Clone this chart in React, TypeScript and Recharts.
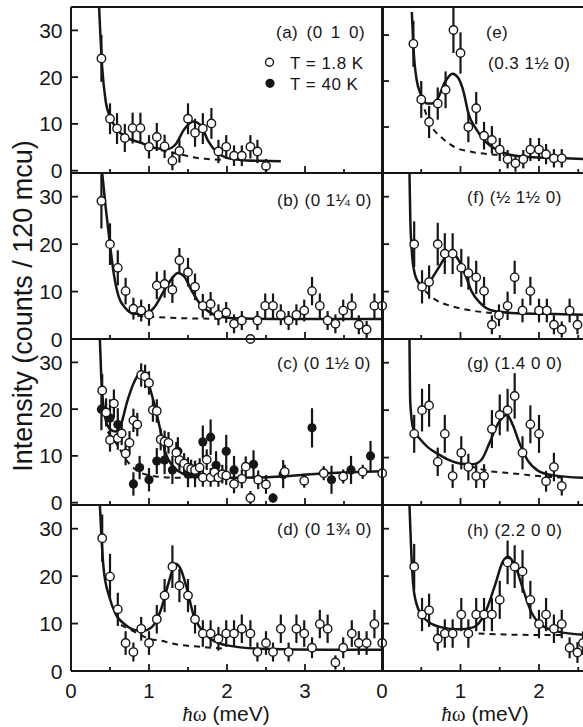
import React from 'react';
import { ComposedChart, Scatter, Line, XAxis, YAxis, ErrorBar } from 'recharts';

type P = [number, number, number];
type L = [number, number];

// ---------- data (x = energy meV, y = intensity, e = error) ----------
const aCold: P[] = [[0.39,24.0,5.0],[0.50,11.1,3.3],[0.59,9.0,3.3],[0.69,7.0,3.0],[0.79,9.1,3.3],[0.89,9.1,3.3],[1.00,5.1,2.5],[1.10,7.2,3.0],[1.20,5.2,2.5],[1.30,2.1,2.0],[1.39,4.2,2.5],[1.50,11.1,3.3],[1.59,8.1,3.0],[1.69,9.0,3.3],[1.80,10.1,3.3],[1.89,4.1,2.5],[1.99,5.1,2.5],[2.09,3.2,2.2],[2.19,3.2,2.2],[2.30,5.1,2.5],[2.39,4.1,2.5],[2.50,1.0,1.5]];
const aFit: L[] = [[0.36,35],[0.40,22],[0.445,14.8],[0.50,11.6],[0.59,8.8],[0.72,7.0],[0.89,6.0],[1.06,4.9],[1.23,4.6],[1.34,5.6],[1.45,8.8],[1.57,10.5],[1.66,9.8],[1.76,6.3],[1.87,3.9],[1.99,2.8],[2.17,2.3],[2.43,2.1],[2.69,2.0]];
const aBg: L[] = [[1.15,4.4],[1.27,3.95],[1.45,3.3],[1.57,2.85],[1.75,2.5],[1.95,2.3]];

const bCold: P[] = [[0.39,29.1,5.8],[0.50,20.0,4.4],[0.60,15.0,3.7],[0.70,10.1,2.8],[0.80,6.4,2.3],[0.90,6.0,2.3],[1.00,5.1,2.3],[1.10,11.3,2.9],[1.20,11.6,2.9],[1.30,10.4,2.8],[1.39,16.6,2.6],[1.50,14.1,3.0],[1.59,11.0,2.8],[1.69,7.0,2.5],[1.79,7.4,2.5],[1.89,5.1,2.2],[1.99,5.6,2.2],[2.09,3.2,2.0],[2.19,3.9,2.0],[2.30,0.0,0],[2.39,3.9,2.0],[2.49,7.0,2.6],[2.59,7.0,2.6],[2.69,5.1,2.2],[2.79,3.9,2.0],[2.89,5.1,2.2],[2.99,6.0,2.3],[3.09,10.1,3.0],[3.19,7.0,2.6],[3.29,3.9,2.0],[3.39,3.2,2.0],[3.49,6.0,2.3],[3.60,7.0,2.6],[3.69,3.0,2.0],[3.79,2.0,1.8],[3.89,7.0,2.6],[3.99,7.0,2.6]];
const bFit: L[] = [[0.40,35],[0.445,27.7],[0.50,19.9],[0.55,13.6],[0.61,9.0],[0.70,6.5],[0.81,5.3],[0.93,5.3],[1.06,6.5],[1.19,10.1],[1.30,12.9],[1.37,13.9],[1.45,13.2],[1.55,10.1],[1.66,7.3],[1.79,5.5],[1.96,4.6],[2.21,4.3],[2.85,4.2],[4.0,4.2]];
const bBg: L[] = [[0.85,4.9],[1.1,4.6],[1.4,4.4],[1.7,4.3],[1.96,4.25]];

const cCold: P[] = [[0.40,24.0,3.5],[0.45,19.3,3.0],[0.50,13.4,2.5],[0.55,21.2,3.0],[0.60,13.8,2.5],[0.65,14.8,2.5],[0.70,10.5,2.5],[0.75,12.8,2.5],[0.80,17.6,2.5],[0.85,16.7,2.5],[0.90,27.3,2.5],[0.95,27.0,2.5],[1.00,25.6,2.5],[1.05,19.8,2.5],[1.10,19.6,2.5],[1.15,13.5,2.3],[1.20,13.1,2.3],[1.25,12.8,2.3],[1.35,10.7,2.3],[1.39,9.1,2.2],[1.45,8.4,2.2],[1.50,7.5,2.2],[1.54,7.2,2.0],[1.59,7.0,2.0],[1.65,7.5,2.0],[1.69,5.4,2.0],[1.74,9.2,2.2],[1.79,5.4,2.0],[1.84,6.5,2.0],[1.89,5.4,2.0],[1.94,6.1,2.0],[1.99,5.8,2.0],[2.09,4.0,2.0],[2.19,5.1,2.0],[2.24,7.7,2.2],[2.30,1.0,1.5],[2.40,4.9,2.0],[2.50,3.9,2.0],[2.74,6.6,1.5],[2.99,4.7,1.5],[3.24,6.3,1.5],[3.49,5.6,1.5],[3.74,6.6,1.5],[3.99,6.3,1.5]];
const cWarm: P[] = [[0.39,20.0,4.5],[0.50,18.1,4.0],[0.60,16.7,3.5],[0.80,4.0,2.5],[0.88,7.5,2.5],[1.00,4.9,2.5],[1.10,8.9,2.8],[1.20,9.1,3.0],[1.30,7.0,3.0],[1.37,11.0,3.0],[1.50,6.1,2.8],[1.59,6.1,2.8],[1.69,13.0,3.5],[1.79,14.0,3.8],[1.86,8.0,3.0],[1.99,11.0,3.5],[2.09,7.0,3.0],[2.34,8.2,3.0],[2.59,1.0,1.0],[2.72,6.1,3.0],[3.09,16.0,4.2],[3.34,4.9,3.0],[3.59,7.0,3.0],[3.84,10.0,3.2]];
const cFit: L[] = [[0.37,35],[0.39,26],[0.42,20],[0.46,16.8],[0.51,15.6],[0.57,15.2],[0.64,16.7],[0.72,21.6],[0.81,25.8],[0.89,27.8],[0.93,27.8],[0.98,26.1],[1.06,21.6],[1.15,15.2],[1.21,10.7],[1.30,7.9],[1.40,6.5],[1.57,5.6],[1.83,5.3],[2.42,5.4],[3.28,6.3],[4.0,6.7]];
const cBg: L[] = [[0.47,15.2],[0.59,12.4],[0.72,8.9],[0.85,6.8],[1.02,5.8],[1.23,5.4],[1.45,5.3]];

const dCold: P[] = [[0.40,28.0,5.0],[0.50,19.9,4.8],[0.60,13.0,3.5],[0.70,5.9,2.5],[0.80,4.0,2.0],[0.90,8.9,2.5],[1.00,5.9,2.5],[1.10,10.9,3.0],[1.20,15.9,3.5],[1.30,22.0,4.5],[1.39,18.0,3.5],[1.50,15.9,3.5],[1.59,10.9,3.0],[1.69,7.9,2.8],[1.79,7.9,2.8],[1.89,6.8,2.5],[1.99,7.9,2.8],[2.09,7.9,2.8],[2.19,8.9,3.0],[2.30,7.9,2.8],[2.39,4.0,2.0],[2.50,5.9,2.5],[2.59,4.0,2.0],[2.69,8.9,3.0],[2.79,4.0,2.0],[2.89,8.9,3.0],[2.99,7.9,2.8],[3.09,4.9,2.2],[3.19,9.9,3.0],[3.29,8.9,3.0],[3.39,1.8,1.5],[3.49,4.9,2.2],[3.60,7.9,2.8],[3.69,5.9,2.5],[3.79,5.9,2.5],[3.89,9.9,3.0],[3.99,5.9,2.5]];
const dFit: L[] = [[0.37,35],[0.39,28.4],[0.42,21.3],[0.49,15.7],[0.57,12.1],[0.70,9.7],[0.83,8.6],[0.93,8.5],[1.04,9.3],[1.15,12.8],[1.25,18.5],[1.34,22.6],[1.40,21.7],[1.49,17.1],[1.57,11.8],[1.66,9.0],[1.79,6.8],[2.0,5.4],[2.43,4.7],[3.28,4.5],[4.0,4.5]];
const dBg: L[] = [[0.64,9.7],[0.81,8.3],[1.0,6.8],[1.15,6.4],[1.36,5.6],[1.66,5.1],[2.0,4.7]];

const eCold: P[] = [[0.40,28.1,5.0],[0.50,16.0,4.0],[0.60,11.1,3.5],[0.71,15.1,3.5],[0.81,18.1,4.0],[0.91,31.1,5.0],[1.00,26.1,4.5],[1.10,10.0,3.3],[1.20,14.1,3.5],[1.30,8.1,3.0],[1.40,7.2,3.0],[1.50,5.1,2.5],[1.60,3.0,2.0],[1.70,2.1,1.8],[1.80,3.0,2.0],[1.89,5.1,2.5],[2.00,5.1,2.5],[2.09,4.1,2.2],[2.19,3.2,2.0],[2.29,3.2,2.0]];
const eFit: L[] = [[0.38,35],[0.40,27.4],[0.44,20.4],[0.50,16.9],[0.57,15.1],[0.63,15.1],[0.71,16.2],[0.80,19.7],[0.90,21.6],[0.97,20.7],[1.04,17.6],[1.10,13.0],[1.19,9.8],[1.31,7.0],[1.48,4.9],[1.65,3.9],[1.86,3.5],[2.33,3.2],[2.60,3.0]];
const eBg: L[] = [[0.50,16.2],[0.55,13.4],[0.63,10.2],[0.76,7.7],[0.93,5.6],[1.14,4.6],[1.35,4.1],[1.56,3.9]];

const fCold: P[] = [[0.41,20.0,4.8],[0.51,11.0,3.5],[0.60,12.0,3.5],[0.71,20.0,4.5],[0.80,18.0,4.3],[0.90,18.0,4.3],[1.01,15.0,4.0],[1.10,13.9,3.5],[1.20,13.0,3.5],[1.30,10.1,3.0],[1.40,3.0,2.0],[1.49,5.0,2.3],[1.60,7.0,3.0],[1.69,13.0,3.5],[1.79,6.0,2.5],[1.89,10.1,3.0],[2.00,6.0,2.5],[2.10,6.0,2.5],[2.19,3.0,2.0],[2.29,2.0,1.7],[2.39,6.0,2.5],[2.49,3.0,2.0]];
const fFit: L[] = [[0.35,35],[0.36,25.6],[0.38,18.5],[0.41,14.3],[0.47,11.8],[0.53,11.1],[0.61,12.2],[0.72,15.0],[0.82,17.5],[0.90,18.0],[0.97,16.8],[1.06,13.6],[1.14,10.1],[1.25,7.6],[1.40,6.0],[1.65,5.5],[2.07,5.3],[2.60,5.1]];
const fBg: L[] = [[0.55,10.1],[0.68,8.3],[0.89,6.9],[1.14,6.0],[1.40,5.5]];

const gCold: P[] = [[0.41,15.0,4.0],[0.51,20.0,4.5],[0.60,21.0,4.5],[0.71,9.1,3.0],[0.80,15.0,4.0],[0.90,6.1,2.5],[1.01,11.0,3.5],[1.10,8.0,2.8],[1.20,6.1,2.5],[1.30,6.1,2.5],[1.40,16.0,4.0],[1.50,19.0,4.3],[1.60,20.0,4.5],[1.69,23.0,4.8],[1.79,11.0,3.5],[1.89,17.0,4.0],[2.00,15.0,4.0],[2.09,5.0,2.2],[2.19,8.0,3.0],[2.29,4.0,2.0]];
const gFit: L[] = [[0.35,35],[0.36,21.6],[0.40,16.0],[0.49,13.8],[0.59,12.1],[0.72,10.7],[0.85,9.5],[1.01,8.7],[1.16,8.6],[1.27,9.6],[1.37,13.1],[1.48,17.2],[1.59,19.0],[1.67,16.7],[1.75,13.1],[1.86,9.3],[1.99,7.2],[2.16,6.3],[2.60,5.7]];
const gBg: L[] = [[1.12,8.2],[1.35,7.2],[1.65,6.7],[1.99,6.1],[2.28,5.8]];

const hCold: P[] = [[0.41,22.0,4.8],[0.51,11.9,3.5],[0.60,12.8,3.5],[0.71,6.8,2.5],[0.80,7.9,3.0],[0.90,7.9,3.0],[1.01,11.9,3.5],[1.10,7.9,3.0],[1.20,11.9,3.5],[1.30,11.9,3.5],[1.40,11.9,3.5],[1.50,15.0,4.0],[1.60,22.9,4.6],[1.69,22.0,4.5],[1.79,21.0,4.5],[1.89,15.0,4.0],[2.00,9.9,3.0],[2.09,11.9,3.5],[2.19,8.9,3.0],[2.29,9.9,3.0],[2.39,4.9,2.2],[2.49,3.9,2.2],[2.56,5.9,2.5]];
const hFit: L[] = [[0.35,35],[0.38,22.7],[0.41,16.4],[0.49,12.1],[0.59,10.4],[0.76,9.2],[0.97,8.8],[1.16,9.2],[1.31,12.1],[1.44,18.1],[1.54,23.1],[1.61,24.1],[1.69,22.4],[1.80,17.1],[1.90,12.5],[2.03,9.7],[2.24,8.3],[2.60,7.6]];
const hBg: L[] = [[1.23,7.9],[1.56,7.7],[1.99,7.6],[2.28,7.6]];

const xTicks = [0, 0.5, 1, 1.5, 2, 2.5, 3, 3.5, 4];
const yTicks = [0, 10, 20, 30];
const xLabelsLeft = [0, 1, 2, 3];
const xLabelsRight = [0, 1, 2];

// ---------- layout ----------
const COL_X = [71, 382];
const PLOT_W = [312, 314];
const ROW_TOP = [7, 173, 339, 505];
const PLOT_H = 166;
const INK = '#161616';
const SANS = '"Liberation Sans", Arial, Helvetica, sans-serif';

const pts = (a: P[]) => a.map(([x, y, e]) => ({ x, y, e }));
const ln = (a: L[]) => a.map(([x, y]) => ({ x, y }));

const panels = [
  { col: 0, row: 0, cold: aCold, warm: null, fit: aFit, bg: aBg },
  { col: 0, row: 1, cold: bCold, warm: null, fit: bFit, bg: bBg },
  { col: 0, row: 2, cold: cCold, warm: cWarm, fit: cFit, bg: cBg },
  { col: 0, row: 3, cold: dCold, warm: null, fit: dFit, bg: dBg },
  { col: 1, row: 0, cold: eCold, warm: null, fit: eFit, bg: eBg },
  { col: 1, row: 1, cold: fCold, warm: null, fit: fFit, bg: fBg },
  { col: 1, row: 2, cold: gCold, warm: null, fit: gFit, bg: gBg },
  { col: 1, row: 3, cold: hCold, warm: null, fit: hFit, bg: hBg },
];

const panelLabels = [
  { t: '(a) (0 1 0)', x: 276, y: 37.5, ws: 3 },
  { t: '(b) (0 1¼ 0)', x: 277, y: 205.5, ws: 0 },
  { t: '(c) (0 1½ 0)', x: 277, y: 368.5, ws: 0 },
  { t: '(d) (0 1¾ 0)', x: 277, y: 535, ws: 0 },
  { t: '(e)', x: 486, y: 37.5, ws: 0 },
  { t: '(0.3 1½ 0)', x: 488, y: 69, ws: 0 },
  { t: '(f) (½ 1½ 0)', x: 467, y: 203, ws: 0 },
  { t: '(g) (1.4 0 0)', x: 467, y: 368.5, ws: 0 },
  { t: '(h) (2.2 0 0)', x: 467, y: 535.5, ws: 0 },
];

const OpenDot = (p: any) => (
  <circle cx={p.cx} cy={p.cy} r={4.2} fill="#fff" stroke={INK} strokeWidth={1.4} />
);
const FillDot = (p: any) => <circle cx={p.cx} cy={p.cy} r={4.6} fill={INK} />;

const makeXTick = (dir: number, labels: number[] | null) => (p: any) => {
  const v = p.payload.value;
  const major = Math.abs(v - Math.round(v)) < 1e-6;
  const len = major ? 7 : 4;
  return (
    <g>
      <line x1={p.x} x2={p.x} y1={p.y} y2={p.y + dir * len} stroke={INK} strokeWidth={1.8} />
      {labels && major && labels.includes(v) ? (
        <text x={p.x} y={p.y + 26.5} textAnchor="middle" fontSize={20.5} fontFamily={SANS} fill={INK}>
          {v}
        </text>
      ) : null}
    </g>
  );
};

const makeYTick = (dir: number, showLabel: boolean) => (p: any) => {
  const v = p.payload.value;
  return (
    <g>
      <line x1={p.x} x2={p.x + dir * 7} y1={p.y} y2={p.y} stroke={INK} strokeWidth={1.8} />
      {showLabel ? (
        <text x={p.x - 8.5} y={p.y + 7.5} textAnchor="end" fontSize={21} fontFamily={SANS} fill={INK}>
          {v}
        </text>
      ) : null}
    </g>
  );
};

const axisLine = { stroke: INK, strokeWidth: 2 };

function Panel({ cfg }: { cfg: any }) {
  const { col, row, cold, warm, fit, bg } = cfg;
  // outer margins; each axis itself takes 1px, so the plot area is exact
  const ml = col === 0 ? 70 : 19;
  const mr = 19;
  const mt = 9;
  const mb = row === 3 ? 59 : 9;
  const pw = PLOT_W[col];
  const w = ml + 1 + pw + 1 + mr;
  const h = mt + 1 + PLOT_H + 1 + mb;
  const left = COL_X[col] - ml - 1;
  const top = ROW_TOP[row] - mt - 1;
  const xl = row === 3 ? (col === 0 ? xLabelsLeft : xLabelsRight) : null;
  return (
    <div style={{ position: 'absolute', left, top, width: w, height: h }}>
      <ComposedChart width={w} height={h} margin={{ top: mt, right: mr, bottom: mb, left: ml }}>
        <XAxis xAxisId="b" dataKey="x" type="number" domain={[0, 4]} ticks={xTicks} interval={0}
          height={1} tickSize={0} tickMargin={0} tickLine={false} axisLine={axisLine}
          tick={makeXTick(-1, xl)} />
        <XAxis xAxisId="t" orientation="top" type="number" domain={[0, 4]} ticks={xTicks} interval={0}
          height={1} tickSize={0} tickMargin={0} tickLine={false} axisLine={axisLine}
          tick={makeXTick(1, null)} />
        <YAxis yAxisId="l" dataKey="y" type="number" domain={[0, 35]} ticks={yTicks} interval={0}
          width={1} tickSize={0} tickMargin={0} tickLine={false} axisLine={axisLine}
          tick={makeYTick(1, col === 0)} />
        <YAxis yAxisId="r" orientation="right" type="number" domain={[0, 35]} ticks={yTicks} interval={0}
          width={1} tickSize={0} tickMargin={0} tickLine={false} axisLine={axisLine}
          tick={makeYTick(-1, false)} />
        {warm ? (
          <Scatter xAxisId="b" yAxisId="l" data={pts(warm)} dataKey="y" shape={FillDot} isAnimationActive={false}>
            <ErrorBar dataKey="e" direction="y" width={0} stroke={INK} strokeWidth={2.2} isAnimationActive={false} />
          </Scatter>
        ) : null}
        <Scatter xAxisId="b" yAxisId="l" data={pts(cold)} dataKey="y" shape={OpenDot} isAnimationActive={false}>
          <ErrorBar dataKey="e" direction="y" width={0} stroke={INK} strokeWidth={2.2} isAnimationActive={false} />
        </Scatter>
        <Line xAxisId="b" yAxisId="l" data={ln(bg)} dataKey="y" type="monotone" dot={false}
          stroke={INK} strokeWidth={2} strokeDasharray="6 5" isAnimationActive={false} />
        <Line xAxisId="b" yAxisId="l" data={ln(fit)} dataKey="y" type="monotone" dot={false}
          stroke={INK} strokeWidth={2.5} isAnimationActive={false} />
      </ComposedChart>
    </div>
  );
}

export default function App() {
  return (
    <div style={{ position: 'absolute', left: 0, top: 0, width: 583, height: 727, overflow: 'hidden', background: '#fff' }}>
      {panels.map((p, i) => (
        <Panel key={i} cfg={p} />
      ))}
      <svg width={583} height={727} style={{ position: 'absolute', left: 0, top: 0, pointerEvents: 'none' }}>
        {panelLabels.map((l, i) => (
          <text key={i} x={l.x} y={l.y} fontSize={17} letterSpacing={0.5} wordSpacing={l.ws} fontFamily={SANS} fill={INK}>
            {l.t}
          </text>
        ))}
        <circle cx={269.5} cy={62.3} r={4} fill="#fff" stroke={INK} strokeWidth={1.4} />
        <text x={290} y={68.5} fontSize={17} letterSpacing={0.5} fontFamily={SANS} fill={INK}>T = 1.8 K</text>
        <circle cx={270} cy={83.3} r={4.6} fill={INK} />
        <text x={290} y={89.5} fontSize={17} letterSpacing={0.5} fontFamily={SANS} fill={INK}>T = 40 K</text>
        <text transform="rotate(-90)" x={-306} y={32} textAnchor="middle" fontSize={27} fontFamily={SANS} fill={INK}>
          Intensity (counts / 120 mcu)
        </text>
        <text x={226} y={721} textAnchor="middle" fontSize={21} fontFamily={SANS} fill={INK}>
          <tspan fontFamily='"Liberation Serif", serif' fontStyle="italic">ħ</tspan>
          <tspan fontFamily='"Liberation Serif", serif'>ω</tspan> (meV)
        </text>
        <text x={485} y={721} textAnchor="middle" fontSize={21} fontFamily={SANS} fill={INK}>
          <tspan fontFamily='"Liberation Serif", serif' fontStyle="italic">ħ</tspan>
          <tspan fontFamily='"Liberation Serif", serif'>ω</tspan> (meV)
        </text>
      </svg>
    </div>
  );
}
